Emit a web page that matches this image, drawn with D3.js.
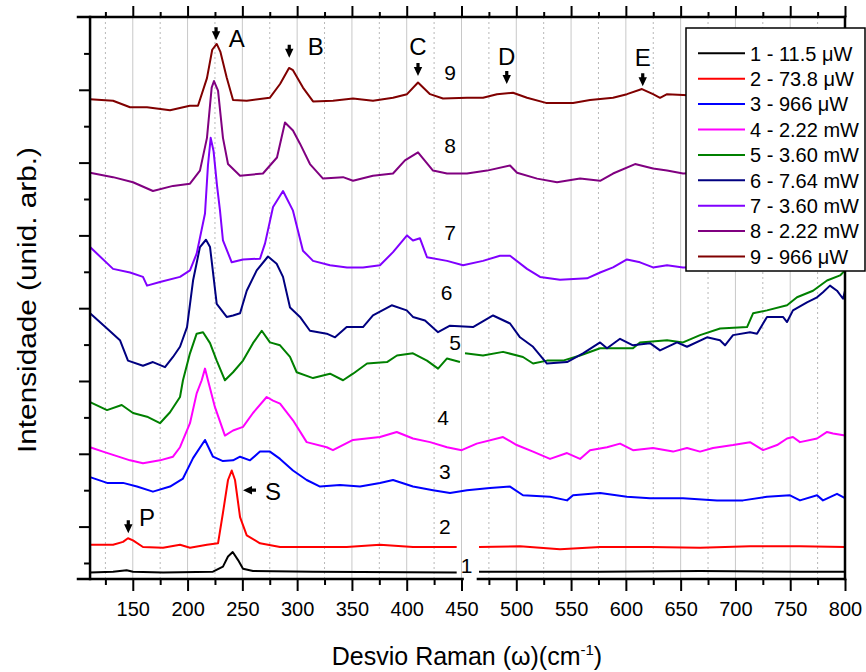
<!DOCTYPE html>
<html>
<head>
<meta charset="utf-8">
<script src="https://cdn.jsdelivr.net/npm/d3@7"></script>
<style>
	body { margin: 0; background: #fff; }
	text { font-family: 'Liberation Sans', Arial, sans-serif; }
</style>
</head>
<body>
<div id="chart"></div>
<script>
// Raman spectra, [shift (cm-1), intensity (arb.)]
const spec1 = [[111,0.37],[132,0.38],[144.4,0.40],[150.2,0.38],[177.6,0.37],[223.2,0.38],[232.3,0.45],[236.9,0.59],[241.2,0.65],[246.1,0.54],[250.6,0.42],[259.7,0.39],[314.5,0.38],[445.6,0.37],[455,null],[466,0.38],[576.5,0.38],[667.7,0.39],[758.9,0.38],[800,0.38]];
const spec2 = [[111,0.75],[132,0.75],[141.1,0.79],[145.6,0.84],[150.2,0.81],[159.3,0.72],[177.6,0.71],[193.1,0.75],[202.2,0.71],[217.7,0.75],[227.8,0.77],[232.3,1.19],[236.9,1.64],[240.3,1.77],[243.3,1.64],[247.9,1.13],[254,0.88],[266.1,0.77],[284.4,0.72],[314.5,0.72],[345.2,0.72],[375.6,0.75],[405.7,0.72],[445.6,0.72],[455,null],[466,0.72],[503.4,0.73],[539.9,0.69],[576.5,0.72],[622,0.72],[667.7,0.71],[713.3,0.73],[758.9,0.73],[800,0.72]];
const spec3 = [[111,1.68],[126.5,1.60],[141.1,1.60],[153.8,1.55],[168.4,1.48],[184,1.55],[195.8,1.66],[205,1.94],[215.9,2.19],[223.2,1.96],[232.3,1.90],[241.5,1.91],[247.9,1.96],[257,1.91],[266.1,2.03],[275.2,2.03],[284.4,1.93],[296.2,1.77],[308.7,1.64],[320.9,1.55],[339.1,1.57],[357.4,1.55],[375.6,1.60],[387.5,1.64],[405.7,1.55],[424,1.50],[439.5,1.46],[455,1.50],[476,1.53],[494.3,1.55],[506.1,1.43],[530.8,1.41],[546.3,1.36],[551.8,1.43],[576.5,1.46],[601,1.41],[622,1.39],[652.2,1.39],[683.2,1.36],[706.9,1.36],[728.8,1.41],[749.8,1.43],[758.9,1.36],[774.5,1.43],[779.9,1.36],[792.7,1.45],[800,1.39]];
const spec4 = [[111,2.09],[122.8,2.03],[147.5,1.91],[159.3,1.87],[174.8,1.91],[186.7,1.96],[193.1,2.09],[202.2,2.42],[208.3,2.83],[212.9,3.01],[215.9,3.17],[218.6,3.01],[225,2.64],[234.1,2.25],[241.5,2.32],[250.6,2.37],[259.7,2.56],[272.2,2.78],[278,2.73],[284.4,2.69],[296.2,2.46],[308.7,2.16],[327,2.09],[332.7,2.05],[351,2.19],[375.6,2.23],[390.9,2.30],[405.7,2.21],[421.3,2.16],[436.8,2.09],[450.2,2.05],[463.9,2.14],[487.9,2.23],[500.4,2.12],[515.3,2.03],[530.8,1.93],[546.3,2.01],[558.2,1.93],[567.3,2.05],[582.8,2.09],[594.7,2.14],[606.5,2.05],[624.8,2.08],[643.1,2.03],[655.8,2.08],[667.7,2.03],[679.5,2.08],[697.8,2.12],[713.3,2.16],[725.2,2.05],[738,2.12],[747.1,2.21],[752.5,2.23],[758.9,2.16],[774.5,2.21],[783.6,2.30],[789.1,2.28],[800,2.25]];
const spec5 = [[111,2.71],[126.5,2.60],[139.9,2.67],[150.2,2.56],[163,2.51],[174.8,2.42],[184,2.57],[193.1,2.78],[195.8,3.01],[202.2,3.38],[208.3,3.65],[214.1,3.67],[220.5,3.52],[226.6,3.28],[234.1,3.01],[241.5,3.12],[250.6,3.28],[259.7,3.52],[267.7,3.69],[275.2,3.53],[284.4,3.49],[293.5,3.33],[299.6,3.12],[314.5,3.04],[330,3.10],[341.9,3.01],[351,3.10],[363.8,3.24],[382,3.26],[391.1,3.35],[405.7,3.38],[418.5,3.28],[428.6,3.17],[436.8,3.31],[448.6,3.26],[451,null],[453.2,3.38],[469.6,3.35],[487.9,3.40],[506.1,3.33],[515.3,3.24],[528,3.28],[542.6,3.28],[558.2,3.35],[576.5,3.45],[606.5,3.45],[612.9,3.53],[637.6,3.56],[652.2,3.53],[667.7,3.63],[686,3.72],[710.6,3.74],[716.1,3.93],[728.8,3.97],[747.1,4.04],[756.2,4.15],[770.8,4.24],[783.6,4.38],[795.5,4.45],[800,4.52]];
const spec6 = [[111,3.93],[126.5,3.72],[138.3,3.56],[145.6,3.28],[159.3,3.21],[168.4,3.26],[179.4,3.19],[186.7,3.33],[193.1,3.47],[199.5,3.74],[205,4.38],[211.3,4.84],[216.8,4.94],[220.5,4.84],[226.6,4.06],[235.7,3.88],[241.5,3.90],[247.9,3.93],[254,4.24],[263.1,4.52],[273.4,4.71],[281.3,4.61],[287.1,4.43],[293.5,4.01],[302.6,3.88],[311.7,3.69],[327,3.65],[334.6,3.60],[345.2,3.74],[360.1,3.74],[369.2,3.90],[386.3,4.04],[400,3.97],[405.7,3.88],[416.7,3.83],[428.6,3.67],[439.5,3.76],[460.5,3.74],[478.8,3.90],[494.3,3.79],[503.4,3.60],[515.3,3.47],[528,3.24],[546.3,3.26],[560.9,3.38],[576.5,3.53],[582.8,3.45],[594.7,3.58],[606.5,3.49],[622,3.52],[631.2,3.42],[646.7,3.53],[655.8,3.47],[674.1,3.60],[685.9,3.56],[690.5,3.49],[697.8,3.63],[713.3,3.67],[719.7,3.65],[728.8,3.88],[743.4,3.88],[747.1,3.81],[752.5,3.97],[765.3,4.08],[774.5,4.15],[779.9,4.22],[786.3,4.31],[792.7,4.24],[798.2,4.13],[800,4.24]];
const spec7 = [[111,4.84],[132,4.54],[147.5,4.49],[159.3,4.43],[163,4.31],[174.8,4.36],[193.1,4.43],[202.2,4.52],[208.3,4.75],[215.9,5.30],[218.6,5.96],[221.1,6.34],[223.7,6.16],[226.9,5.68],[229.6,5.34],[232.3,4.93],[240.3,4.63],[250.6,4.67],[266.1,4.68],[270.7,4.89],[278,5.39],[287.1,5.61],[296.2,5.34],[305.3,4.79],[314.5,4.65],[330,4.59],[345.5,4.56],[360.1,4.56],[375.6,4.59],[387.5,4.77],[400.3,5.00],[405.7,4.93],[412.1,4.96],[418.5,4.70],[436.8,4.65],[451.4,4.59],[469.6,4.65],[485.1,4.72],[494.3,4.72],[509.8,4.54],[521.7,4.43],[539.9,4.39],[564.6,4.41],[576.5,4.49],[588.3,4.56],[601,4.67],[612.9,4.63],[624.8,4.56],[637.6,4.59],[652.2,4.56],[686,4.57],[722.4,4.60],[758.9,4.59],[800,4.60]];
const spec8 = [[111,5.86],[132,5.80],[150.2,5.73],[168.4,5.61],[186.7,5.68],[202.2,5.71],[211.3,5.89],[217.7,6.34],[222,7.03],[224.1,7.12],[227.8,6.99],[232.3,6.34],[236.9,5.98],[247.9,5.82],[268.8,5.85],[281.6,6.07],[288.9,6.55],[296.2,6.44],[302.6,6.26],[311.7,5.98],[323.6,5.78],[341.9,5.80],[351,5.75],[369.2,5.82],[387.5,5.85],[398.4,6.03],[410.3,6.14],[424,5.89],[436.8,5.85],[455,5.85],[473.3,5.89],[494.3,5.96],[500.7,5.86],[519,5.78],[537.2,5.73],[558.2,5.78],[576.5,5.75],[588.3,5.85],[608.4,5.98],[624.8,5.92],[637.6,5.89],[652.2,5.85],[686,5.87],[722.4,5.88],[758.9,5.85],[800,5.87]];
const spec9 = [[111,6.87],[132,6.85],[147.5,6.76],[163,6.76],[184,6.72],[202,6.78],[209.5,6.78],[217.7,7.16],[222.5,7.55],[226.6,7.63],[230,7.52],[235.7,7.17],[241.5,6.86],[254,6.85],[275,6.89],[284.4,7.08],[292.6,7.30],[296.2,7.27],[305.3,7.03],[314.5,6.84],[332.7,6.85],[351,6.88],[369.2,6.85],[387.5,6.89],[400.3,6.94],[410.3,7.10],[421.3,6.94],[433.1,6.88],[455,6.89],[469.6,6.89],[482.4,6.94],[497,6.96],[509.8,6.89],[527.1,6.82],[551.8,6.82],[567.3,6.86],[588.3,6.89],[601,6.94],[614.7,7.01],[624.8,6.94],[631.2,6.89],[637.6,6.94],[652.2,6.93],[686,6.90],[722.4,6.92],[758.9,6.90],[800,6.91]];

const spectra = [spec1, spec2, spec3, spec4, spec5, spec6, spec7, spec8, spec9];
const legendNames = ['1 - 11.5 \u03bcW', '2 - 73.8 \u03bcW', '3 - 966 \u03bcW', '4 - 2.22 mW', '5 - 3.60 mW', '6 - 7.64 mW', '7 - 3.60 mW', '8 - 2.22 mW', '9 - 966 \u03bcW'];
const colors = ['#000000', '#ff0000', '#0000ff', '#ff00ff', '#008000', '#000080', '#8000ff', '#800080', '#800000'];

// curve numbers next to each spectrum [shift, intensity]
const curveLabels = [[454.7,0.47],[434.9,1.00],[434.9,1.75],[433.1,2.49],[444.1,3.52],[436.5,4.22],[439.5,5.04],[439.5,6.23],[439.5,7.24]];

// peak markers: name, arrow tip [shift, intensity], letter [shift, intensity], direction
const peakNames = ['A', 'B', 'C', 'D', 'E', 'P', 'S'];
const peakTips = [[226,7.68],[292.8,7.44],[410.3,7.19],[491.3,7.08],[615.4,7.05],[145.9,0.91],[250.6,1.50]];
const peakLetters = [[245,7.71],[317,7.60],[410.3,7.60],[491.3,7.46],[615.4,7.44],[163,1.13],[278,1.48]];
const peakDir = ['down', 'down', 'down', 'down', 'down', 'down', 'left'];

const xMajor = d3.range(150, 801, 50);
const xMinor = d3.range(125, 800, 50);
const yMajor = d3.range(1, 8, 1);
const yMinor = d3.range(0.5, 8, 1);
const xBreak = [451, 465];
const yAxisAt = 111;

const width = 866;
const height = 672;

const svg = d3.select('#chart').append('svg').attr('width', width).attr('height', height);

const xScale = d3.scaleLinear().domain([ 100, 800 ]).range([ 78, 845 ]);
const yScale = d3.scaleLinear().domain([ 0.28, 8 ]).range([ 579, 17 ]);

const plotTop = yScale(8);
const plotBottom = yScale(0.28);
const plotLeft = xScale(yAxisAt);
const plotRight = xScale(800);

// vertical grid
svg
	.append('g')
	.selectAll('line')
	.data(xMajor.concat(xMinor))
	.enter()
	.append('line')
	.attr('x1', (d) => xScale(d))
	.attr('x2', (d) => xScale(d))
	.attr('y1', plotTop)
	.attr('y2', plotBottom)
	.style('stroke', (d) => (d % 50 === 0 ? '#c8c8c8' : '#b8b8b8'))
	.style('stroke-width', 1)
	.style('stroke-dasharray', (d) => (d % 50 === 0 ? null : '2, 3'));

// spectra
const line = d3.line().defined((d) => d[1] !== null).x((d) => xScale(d[0])).y((d) => yScale(d[1]));

svg
	.append('g')
	.selectAll('path')
	.data(spectra)
	.enter()
	.append('path')
	.attr('d', line)
	.style('fill', 'none')
	.style('stroke', (d, i) => colors[i])
	.style('stroke-width', 2)
	.style('stroke-linejoin', 'round');

// ticks
const tickStyle = (g) => {
	g.select('.domain').remove();
	g.selectAll('line').style('stroke', '#000').style('stroke-width', 2);
};

svg
	.append('g')
	.attr('transform', `translate(0, ${plotBottom})`)
	.call(d3.axisBottom(xScale).tickValues(xMajor).tickSize(12).tickPadding(11).tickFormat(d3.format('d')))
	.call(tickStyle)
	.selectAll('text')
	.style('font-size', '20px')
	.style('font-family', "'Liberation Sans', Arial, sans-serif")
	.style('fill', '#000');

svg
	.append('g')
	.attr('transform', `translate(0, ${plotBottom})`)
	.call(d3.axisBottom(xScale).tickValues(xMinor).tickSize(6).tickFormat(''))
	.call(tickStyle);

svg
	.append('g')
	.attr('transform', `translate(0, ${plotTop})`)
	.call(d3.axisTop(xScale).tickValues(xMajor).tickSize(11).tickFormat(''))
	.call(tickStyle);

svg
	.append('g')
	.attr('transform', `translate(0, ${plotTop})`)
	.call(d3.axisTop(xScale).tickValues(xMinor).tickSize(5).tickFormat(''))
	.call(tickStyle);

svg
	.append('g')
	.attr('transform', `translate(${plotLeft}, 0)`)
	.call(d3.axisLeft(yScale).tickValues(yMajor).tickSize(11).tickFormat(''))
	.call(tickStyle);

svg
	.append('g')
	.attr('transform', `translate(${plotLeft}, 0)`)
	.call(d3.axisLeft(yScale).tickValues(yMinor).tickSize(6).tickFormat(''))
	.call(tickStyle);

// frame, bottom axis broken
const frame = [
	[ xScale(100), plotTop, plotRight, plotTop ],
	[ plotLeft, plotTop, plotLeft, plotBottom ],
	[ plotRight, plotTop, plotRight, plotBottom ],
	[ xScale(100), plotBottom, xScale(xBreak[0]), plotBottom ],
	[ xScale(xBreak[1]), plotBottom, plotRight, plotBottom ]
];
svg
	.append('g')
	.selectAll('line')
	.data(frame)
	.enter()
	.append('line')
	.attr('x1', (d) => d[0])
	.attr('y1', (d) => d[1])
	.attr('x2', (d) => d[2])
	.attr('y2', (d) => d[3])
	.style('stroke', '#000')
	.style('stroke-width', 2.5)
	.style('stroke-linecap', 'square');

// curve numbers
svg
	.append('g')
	.selectAll('text')
	.data(curveLabels)
	.enter()
	.append('text')
	.attr('x', (d) => xScale(d[0]))
	.attr('y', (d) => yScale(d[1]))
	.attr('dy', '0.35em')
	.attr('text-anchor', 'middle')
	.style('font-size', '21px')
	.text((d, i) => i + 1);

// peak arrows (filled triangle with a short stem) and letters
const arrowDown = 'M0,0 L-4.2,-9 L-1.6,-9 L-1.6,-13 L1.6,-13 L1.6,-9 L4.2,-9 Z';
svg
	.append('g')
	.selectAll('path')
	.data(peakTips)
	.enter()
	.append('path')
	.attr('d', arrowDown)
	.attr('transform', (d, i) => `translate(${xScale(d[0])}, ${yScale(d[1])}) rotate(${peakDir[i] === 'left' ? 90 : 0})`)
	.style('fill', '#000');

svg
	.append('g')
	.selectAll('text')
	.data(peakLetters)
	.enter()
	.append('text')
	.attr('x', (d) => xScale(d[0]))
	.attr('y', (d) => yScale(d[1]))
	.attr('dy', '0.36em')
	.attr('text-anchor', 'middle')
	.style('font-size', '24px')
	.text((d, i) => peakNames[i]);

// axis titles
svg
	.append('text')
	.attr('transform', `translate(27, ${(plotTop + plotBottom) / 2 + 2}) rotate(-90)`)
	.attr('text-anchor', 'middle')
	.attr('dy', '0.35em')
	.attr('textLength', 306)
	.attr('lengthAdjust', 'spacingAndGlyphs')
	.style('font-size', '25px')
	.text('Intensidade (unid. arb.)');

const xTitle = svg
	.append('text')
	.attr('x', 467)
	.attr('y', 665)
	.attr('text-anchor', 'middle')
	.style('font-size', '25px');
xTitle.append('tspan').text('Desvio Raman (\u03c9)(cm');
xTitle.append('tspan').attr('dy', -10).style('font-size', '15px').text('-1');
xTitle.append('tspan').attr('dy', 10).text(')');

// legend
const legend = svg.append('g').attr('transform', 'translate(686, 28)');
legend
	.append('rect')
	.attr('width', 179)
	.attr('height', 243)
	.style('fill', '#fff')
	.style('stroke', '#000')
	.style('stroke-width', 1.5);

const rows = legend
	.selectAll('g')
	.data(legendNames)
	.enter()
	.append('g')
	.attr('transform', (d, i) => `translate(0, ${25.3 + i * 25.4})`);

rows
	.append('line')
	.attr('x1', 12)
	.attr('x2', 59)
	.style('stroke', (d, i) => colors[i])
	.style('stroke-width', 2);

rows
	.append('text')
	.attr('x', 64)
	.attr('dy', '0.36em')
	.style('font-size', '20px')
	.text((d) => d);
</script>
</body>
</html>
